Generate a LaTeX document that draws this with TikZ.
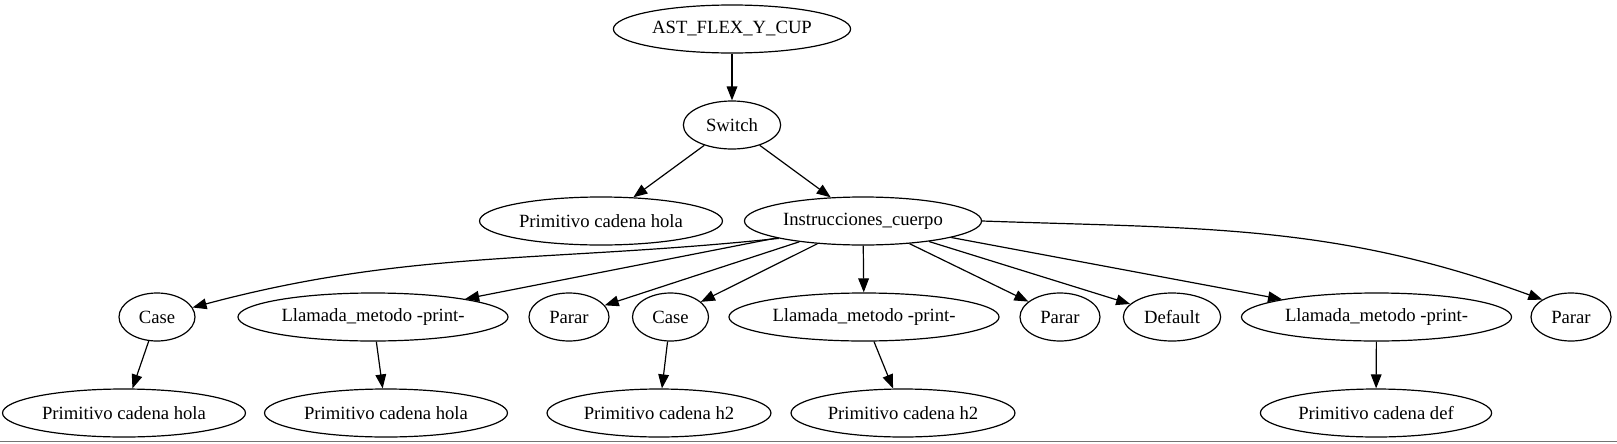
\documentclass[tikz,border=0pt]{standalone}
\usepackage{fontspec}
\setmainfont{Liberation Serif}
\usetikzlibrary{shapes.geometric,arrows.meta}

\tikzset{
	nd/.style={draw, ellipse, line width=0.9pt, minimum height=36pt, inner sep=3pt, font=\fontsize{14pt}{16pt}\selectfont},
	shortnd/.style={nd, minimum width=57pt},
	midnd/.style={nd, minimum width=60pt},
	widend/.style={nd, minimum width=73pt},
	link/.style={line width=0.9pt, -{Triangle[length=10.5pt,width=8pt]}},
}

\begin{document}
\begin{tikzpicture}[x=0.75pt,y=0.75pt,yscale=-1]
	%picture is 1617 x 443, as the png that graphviz gives
	\useasboundingbox (0,0) rectangle (1617,443);
	\draw [black!55, line width=1pt] (0,441.5) -- (1617,441.5);
	
	\node [nd] (ast) at (732,29) {AST\_FLEX\_Y\_CUP};
	\node [widend] (sw) at (732,125) {Switch};
	
	\node [nd] (phola) at (601,221) {Primitivo cadena hola};
	\node [nd] (ins) at (863,221) {Instrucciones\_cuerpo};
	
	\node [shortnd] (case1) at (157,317) {Case};
	\node [nd] (llam1) at (373,317) {Llamada\_metodo -print-};
	\node [midnd] (parar1) at (569,317) {Parar};
	\node [shortnd] (case2) at (670.5,317) {Case};
	\node [nd] (llam2) at (864,317) {Llamada\_metodo -print-};
	\node [midnd] (parar2) at (1060,317) {Parar};
	\node [widend] (dflt) at (1172,317) {Default};
	\node [nd] (llam3) at (1376.5,317) {Llamada\_metodo -print-};
	\node [midnd] (parar3) at (1571,317) {Parar};
	
	\node [nd] (prim1) at (124,413) {Primitivo cadena hola};
	\node [nd] (prim2) at (386,413) {Primitivo cadena hola};
	\node [nd] (prim3) at (659,413) {Primitivo cadena h2};
	\node [nd] (prim4) at (903,413) {Primitivo cadena h2};
	\node [nd] (prim5) at (1376,413) {Primitivo cadena def};
	
	\draw [link] (ast) -- (sw);
	\draw [link] (sw) -- (phola);
	\draw [link] (sw) -- (ins);
	
	% y is flipped, so angles are mirrored
	\draw [link] (ins.south west) to[out=174, in=-20] (case1);
	\draw [link] (ins) -- (llam1);
	\draw [link] (ins) -- (parar1);
	\draw [link] (ins) -- (case2);
	\draw [link] (ins) -- (llam2);
	\draw [link] (ins) -- (parar2);
	\draw [link] (ins) -- (dflt);
	\draw [link] (ins) -- (llam3);
	\draw [link] (ins.east) to[out=2, in=-160] (parar3.north west);
	
	\draw [link] (case1) -- (prim1);
	\draw [link] (llam1) -- (prim2);
	\draw [link] (case2) -- (prim3);
	\draw [link] (llam2) -- (prim4);
	\draw [link] (llam3) -- (prim5);
	
\end{tikzpicture}
\end{document}
